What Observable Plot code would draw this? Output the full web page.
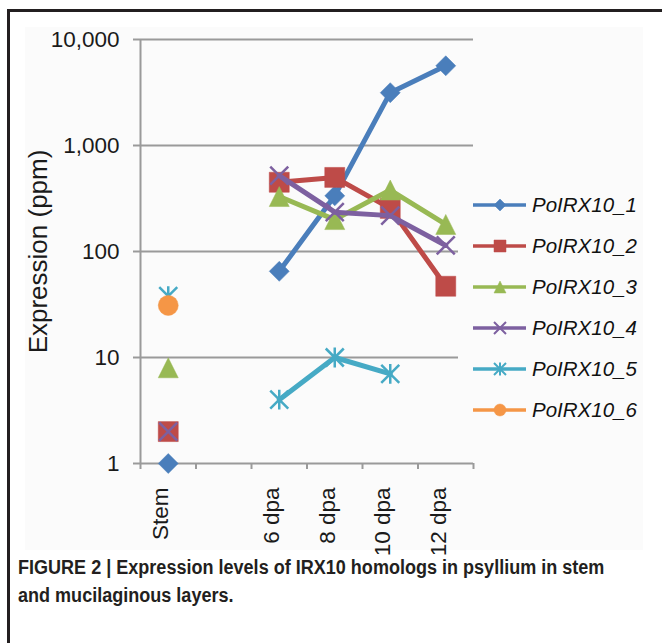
<!DOCTYPE html>
<html><head><meta charset="utf-8">
<script src="https://cdn.jsdelivr.net/npm/d3@7"></script>
<script src="https://cdn.jsdelivr.net/npm/@observablehq/plot@0.6"></script>
<style>
html,body{margin:0;padding:0;background:#fff;}
#wrap{position:relative;width:662px;height:643px;overflow:hidden;font-family:"Liberation Sans",Arial,sans-serif;}
#frameTop{position:absolute;left:7px;top:9px;width:655px;height:3px;background:#231f20;}
#frameLeft{position:absolute;left:7px;top:9px;width:3px;height:634px;background:#231f20;}
#panel{position:absolute;left:25px;top:27px;width:618px;height:523px;background:#fbfbfb;}
#chart{position:absolute;left:0;top:0;}
#legend{position:absolute;left:0;top:0;}
#caption{position:absolute;left:18px;top:553px;font-family:"Liberation Sans Narrow","Arial Narrow","Liberation Sans",sans-serif;font-weight:bold;font-size:19.5px;line-height:28px;color:#231f20;white-space:nowrap;transform:scaleX(0.925);transform-origin:0 0;}
</style></head>
<body><div id="wrap">
<div id="frameTop"></div><div id="frameLeft"></div><div id="panel"></div>
<div id="chart"></div>
<svg id="legend" width="662" height="643"></svg>
<div id="caption"></div>
</div>
<script>
// ---- data ----
const categories = ["Stem", "", "6 dpa", "8 dpa", "10 dpa", "12 dpa"];
const seriesNames = ["PoIRX10_1", "PoIRX10_2", "PoIRX10_3", "PoIRX10_4", "PoIRX10_5", "PoIRX10_6"];
const irx1 = [1, null, 65, 335, 3150, 5650];
const irx2 = [2, null, 450, 500, 255, 47];
const irx3 = [8, null, 330, 200, 380, 180];
const irx4 = [2, null, 520, 235, 218, 114];
const irx5 = [38, null, 4, 10, 7, null];
const irx6 = [31, null, null, null, null, null];
const yTicks = [1, 10, 100, 1000, 10000];
const yLabel = "Expression (ppm)";
const captionLines = ["FIGURE 2 | Expression levels of IRX10 homologs in psyllium in stem", "and mucilaginous layers."];

const seriesValues = [irx1, irx2, irx3, irx4, irx5, irx6];
const colors = ["#4a7ebb", "#be4b48", "#98b954", "#7d60a0", "#46aac5", "#f59646"];
const gridColor = "#9a9a9a";

// custom Excel-like marker symbols (size = pi r^2)
const R = s => Math.sqrt(s / Math.PI);
const symDiamond = {draw(c, s) {const r = R(s); c.moveTo(0, -r); c.lineTo(r, 0); c.lineTo(0, r); c.lineTo(-r, 0); c.closePath();}};
const symSquare = {draw(c, s) {const r = R(s); c.moveTo(-r, -r); c.lineTo(r, -r); c.lineTo(r, r); c.lineTo(-r, r); c.closePath();}};
const symTriangle = {draw(c, s) {const r = R(s); c.moveTo(0, -r); c.lineTo(r, r); c.lineTo(-r, r); c.closePath();}};
const symTimes = {draw(c, s) {const r = R(s); c.moveTo(-r, -r); c.lineTo(r, r); c.moveTo(-r, r); c.lineTo(r, -r);}};
const symStar = {draw(c, s) {const r = R(s); c.moveTo(-r, -r); c.lineTo(r, r); c.moveTo(-r, r); c.lineTo(r, -r); c.moveTo(0, -r * 1.1); c.lineTo(0, r * 1.1);}};
const symCircle = {draw(c, s) {const r = R(s); c.moveTo(r, 0); c.arc(0, 0, r, 0, 2 * Math.PI);}};
const markers = [
  {symbol: symDiamond, r: 10, filled: true},
  {symbol: symSquare, r: 10, filled: true},
  {symbol: symTriangle, r: 10, filled: true},
  {symbol: symTimes, r: 9, filled: false},
  {symbol: symStar, r: 9, filled: false},
  {symbol: symCircle, r: 10, filled: true}
];

const rows = [];
seriesNames.forEach((s, k) => {
  seriesValues[k].forEach((v, i) => {
    if (v != null) rows.push({series: s, k, cat: categories[i], xi: i + 0.5, value: v, dpa: i >= 2});
  });
});
const labelRows = categories.map((c, i) => ({label: c, xi: i + 0.5})).filter(d => d.label !== "");

const marks = [
  Plot.ruleY(yTicks, {stroke: gridColor, strokeWidth: 2}),
  Plot.ruleX([0], {stroke: gridColor, strokeWidth: 2}),
  Plot.axisY({ticks: yTicks, tickFormat: d3.format(","), tickSize: 7, tickPadding: 14, fontSize: 22.5, stroke: gridColor, strokeWidth: 2, label: null}),
  Plot.axisX({ticks: d3.range(categories.length + 1), tickFormat: () => "", tickSize: 6, stroke: gridColor, strokeWidth: 2, label: null}),
  Plot.text(labelRows, {x: "xi", text: "label", frameAnchor: "bottom", dy: 24, rotate: -90, textAnchor: "end", fontSize: 22.5}),
  Plot.text([yLabel], {frameAnchor: "left", dx: -102, rotate: -90, textAnchor: "middle", fontSize: 26})
];
seriesNames.forEach((s, k) => {
  const data = rows.filter(d => d.k === k);
  marks.push(Plot.line(data.filter(d => d.dpa), {x: "xi", y: "value", stroke: colors[k], strokeWidth: 5, strokeLinejoin: "round", strokeLinecap: "round"}));
  const m = markers[k];
  marks.push(Plot.dot(data, {x: "xi", y: "value", symbol: m.symbol, r: m.r,
    fill: m.filled ? colors[k] : "none", stroke: colors[k], strokeWidth: m.filled ? 0.5 : 2.5}));
});

const chart = Plot.plot({
  width: 662, height: 560,
  marginLeft: 140, marginRight: 189, marginTop: 39, marginBottom: 97,
  style: {background: "transparent", fontFamily: "'Liberation Sans', Arial, sans-serif", color: "#1a1a1a", overflow: "visible"},
  x: {domain: [0, categories.length], axis: null},
  y: {type: "log", domain: [1, 10000], axis: null},
  marks
});
document.getElementById("chart").appendChild(chart);

// ---- legend ----
const lg = d3.select("#legend");
lg.append("rect").attr("x", 458).attr("y", 180).attr("width", 180).attr("height", 255).attr("fill", "#fbfbfb");
seriesNames.forEach((s, k) => {
  const y = 205 + k * 41;
  const g = lg.append("g");
  g.append("line").attr("x1", 473).attr("x2", 526).attr("y1", y).attr("y2", y).attr("stroke", colors[k]).attr("stroke-width", 3.5);
  const m = markers[k];
  g.append("path").attr("transform", `translate(500,${y})`)
    .attr("d", d3.symbol(m.symbol, Math.PI * 36)())
    .attr("fill", m.filled ? colors[k] : "none").attr("stroke", colors[k]).attr("stroke-width", m.filled ? 0.5 : 2);
  g.append("text").attr("x", 532).attr("y", y).attr("dy", "0.35em")
    .attr("font-size", 20.5).attr("font-style", "italic").attr("fill", "#111")
    .attr("font-family", "'Liberation Sans', Arial, sans-serif").text(s);
});

// ---- caption ----
document.getElementById("caption").innerHTML = captionLines.map(t => `<div>${t}</div>`).join("");
</script>
</body></html>
